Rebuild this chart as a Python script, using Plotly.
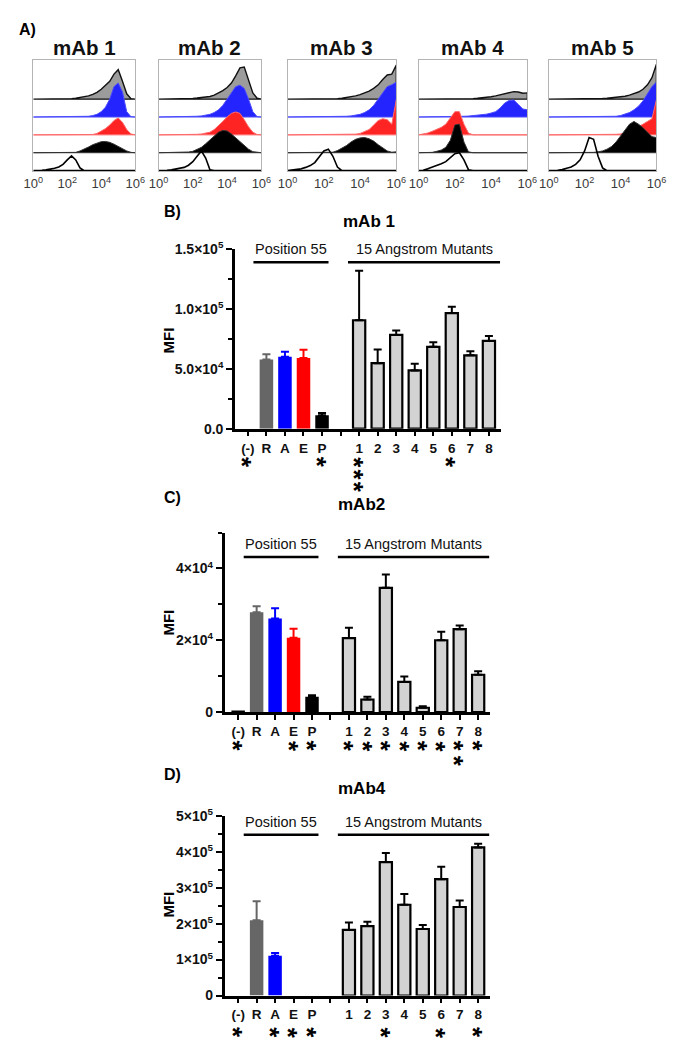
import plotly.graph_objects as go

W, H = 681, 1050
FONT = "Liberation Sans, Arial, Helvetica, sans-serif"

def px(x):
    return x / W

def py(y):
    return 1 - y / H

# ---------------- Panel A: flow cytometry histograms ----------------
hist_x_log = [0.0, 0.25, 0.5, 0.75, 1.0, 1.25, 1.5, 1.75, 2.0, 2.25, 2.5, 2.75, 3.0,
              3.25, 3.5, 3.75, 4.0, 4.25, 4.5, 4.75, 5.0, 5.25, 5.5, 5.75, 6.0]
hist_tick_vals = [0, 2, 4, 6]
hist_tick_text = ["10<sup>0</sup>", "10<sup>2</sup>", "10<sup>4</sup>", "10<sup>6</sup>"]
hist_titles = ["mAb 1", "mAb 2", "mAb 3", "mAb 4", "mAb 5"]

mab1_gray = [0, 0, 0, 0, 0, 0, 0, 0, 0.02, 0.03, 0.05, 0.08, 0.12, 0.18, 0.27, 0.38, 0.55, 0.75, 1.0, 1.4, 1.65, 1.0, 0.3, 0.03, 0]
mab1_blue = [0, 0, 0, 0, 0, 0, 0, 0, 0, 0, 0, 0.01, 0.02, 0.04, 0.08, 0.15, 0.3, 0.55, 1.0, 1.7, 1.9, 1.4, 0.3, 0.02, 0]
mab1_red = [0, 0, 0, 0, 0, 0, 0, 0, 0, 0, 0, 0, 0, 0.01, 0.02, 0.08, 0.2, 0.35, 0.55, 0.8, 0.95, 0.7, 0.3, 0.05, 0]
mab1_black = [0, 0, 0, 0, 0, 0, 0, 0, 0, 0, 0.02, 0.1, 0.2, 0.32, 0.45, 0.55, 0.62, 0.63, 0.58, 0.48, 0.35, 0.22, 0.1, 0.02, 0]
mab1_open = [0, 0, 0.02, 0.05, 0.08, 0.13, 0.2, 0.35, 0.6, 0.82, 0.6, 0.15, 0, 0, 0, 0, 0, 0, 0, 0, 0, 0, 0, 0, 0]

mab2_gray = [0, 0, 0, 0, 0, 0, 0.02, 0.03, 0.04, 0.06, 0.08, 0.11, 0.15, 0.22, 0.33, 0.48, 0.65, 0.9, 1.3, 1.75, 1.8, 1.1, 0.35, 0.05, 0]
mab2_blue = [0, 0, 0, 0, 0, 0, 0, 0, 0.02, 0.04, 0.06, 0.1, 0.15, 0.25, 0.4, 0.65, 1.0, 1.4, 1.7, 1.78, 1.6, 1.0, 0.3, 0.02, 0]
mab2_red = [0, 0, 0, 0, 0, 0, 0, 0, 0.02, 0.03, 0.05, 0.09, 0.15, 0.3, 0.5, 0.75, 1.0, 1.2, 1.28, 1.2, 0.85, 0.45, 0.15, 0.02, 0]
mab2_black = [0, 0, 0, 0, 0, 0, 0.02, 0.04, 0.08, 0.17, 0.3, 0.5, 0.7, 0.95, 1.15, 1.25, 1.22, 1.05, 0.85, 0.6, 0.4, 0.2, 0.06, 0.01, 0]
mab2_open = [0, 0, 0.02, 0.05, 0.08, 0.12, 0.18, 0.3, 0.5, 0.8, 1.1, 0.7, 0.05, 0, 0, 0, 0, 0, 0, 0, 0, 0, 0, 0, 0]

mab3_gray = [0, 0, 0, 0, 0, 0, 0, 0, 0, 0, 0.02, 0.03, 0.05, 0.08, 0.12, 0.18, 0.25, 0.34, 0.45, 0.6, 0.8, 1.1, 1.35, 1.4, 1.9]
mab3_blue = [0, 0, 0, 0, 0, 0, 0, 0, 0, 0, 0, 0, 0.02, 0.04, 0.06, 0.1, 0.15, 0.25, 0.4, 0.65, 1.0, 1.4, 1.7, 1.8, 1.95]
mab3_red = [0, 0, 0, 0, 0, 0, 0, 0, 0, 0, 0, 0, 0, 0, 0.02, 0.04, 0.08, 0.17, 0.3, 0.55, 0.8, 0.9, 0.85, 0.6, 1.95]
mab3_black = [0, 0, 0, 0, 0, 0, 0, 0, 0, 0, 0.03, 0.12, 0.25, 0.4, 0.6, 0.75, 0.83, 0.85, 0.78, 0.65, 0.45, 0.25, 0.1, 0.03, 0.05]
mab3_open = [0, 0.02, 0.05, 0.1, 0.18, 0.28, 0.45, 0.75, 1.1, 1.2, 0.8, 0.2, 0, 0, 0, 0, 0, 0, 0, 0, 0, 0, 0, 0, 0]

mab4_gray = [0, 0, 0, 0, 0, 0, 0, 0, 0, 0, 0.01, 0.02, 0.03, 0.05, 0.07, 0.1, 0.13, 0.18, 0.25, 0.32, 0.38, 0.42, 0.4, 0.33, 0.35]
mab4_blue = [0, 0, 0, 0, 0, 0, 0, 0, 0.02, 0.03, 0.04, 0.05, 0.07, 0.09, 0.12, 0.16, 0.22, 0.3, 0.5, 0.78, 0.93, 0.95, 0.7, 0.45, 0.4]
mab4_red = [0, 0.03, 0.1, 0.2, 0.3, 0.42, 0.6, 0.95, 1.3, 1.3, 0.6, 0.1, 0, 0, 0, 0, 0, 0, 0, 0, 0, 0, 0, 0, 0]
mab4_black = [0, 0, 0, 0.02, 0.08, 0.15, 0.3, 0.7, 1.55, 1.6, 0.6, 0.05, 0, 0, 0, 0, 0, 0, 0, 0, 0, 0, 0, 0, 0]
mab4_open = [0, 0.02, 0.1, 0.18, 0.28, 0.38, 0.5, 0.7, 0.95, 1.0, 0.6, 0.05, 0, 0, 0, 0, 0, 0, 0, 0, 0, 0, 0, 0, 0]

mab5_gray = [0, 0, 0, 0, 0, 0, 0, 0, 0, 0.01, 0.02, 0.03, 0.04, 0.05, 0.07, 0.09, 0.12, 0.16, 0.22, 0.3, 0.4, 0.55, 0.8, 1.2, 1.95]
mab5_blue = [0, 0, 0, 0, 0, 0, 0, 0, 0, 0, 0, 0, 0, 0.01, 0.02, 0.04, 0.08, 0.15, 0.25, 0.4, 0.6, 0.9, 1.3, 1.7, 1.96]
mab5_red = [0, 0, 0, 0, 0, 0, 0, 0, 0, 0, 0, 0, 0, 0, 0.02, 0.03, 0.05, 0.1, 0.2, 0.32, 0.45, 0.6, 0.75, 0.9, 1.96]
mab5_black = [0, 0, 0, 0, 0, 0, 0, 0, 0, 0, 0.02, 0.05, 0.1, 0.2, 0.35, 0.6, 0.95, 1.3, 1.6, 1.75, 1.6, 1.4, 1.15, 0.9, 0.85]
mab5_open = [0, 0, 0.02, 0.06, 0.12, 0.2, 0.35, 0.6, 1.1, 1.85, 1.75, 0.8, 0.15, 0, 0, 0, 0, 0, 0, 0, 0, 0, 0, 0, 0]

hist_sets = [
    [mab1_gray, mab1_blue, mab1_red, mab1_black, mab1_open],
    [mab2_gray, mab2_blue, mab2_red, mab2_black, mab2_open],
    [mab3_gray, mab3_blue, mab3_red, mab3_black, mab3_open],
    [mab4_gray, mab4_blue, mab4_red, mab4_black, mab4_open],
    [mab5_gray, mab5_blue, mab5_red, mab5_black, mab5_open],
]
row_offsets = [4, 3, 2, 1, 0]
row_fill = ["#9c9c9c", "#2424ff", "#ff2424", "#000000", None]
row_line = ["#111111", "#4a4aff", "#ff6a6a", "#333333", "#000000"]
row_lw = [1.4, 1.0, 1.0, 1.0, 1.6]

hist_boxes_px = [(24, 129), (153, 259), (286, 398), (421, 533), (555, 666)]
hist_top_px, hist_bot_px = 50.7, 164.3

# ---------------- Panels B-D: bar charts ----------------
tick_positions = [0, 1, 2, 3, 4, 5, 6, 7, 8, 9, 10, 11, 12, 13]
tick_labels = ["(-)", "R", "A", "E", "P", "", "1", "2", "3", "4", "5", "6", "7", "8"]
pos55_x = [0, 1, 2, 3, 4]
mut_x = [6, 7, 8, 9, 10, 11, 12, 13]
pos55_colors = ["#000000", "#666666", "#0000ff", "#ff0000", "#000000"]
mut_color = "#d3d3d3"

# mAb 1 (B)
b_pos55 = [0, 57700, 60200, 59100, 11200]
b_pos55_err = [0, 4400, 4100, 6900, 1900]
b_mut = [90600, 54700, 78300, 48700, 68400, 96600, 61300, 73300]
b_mut_err = [41300, 11500, 3800, 5500, 3800, 5200, 3300, 4100]
b_stars = [1, 0, 0, 0, 1, 3, 0, 0, 0, 0, 1, 0, 0]

# mAb2 (C)
c_pos55 = [300, 27800, 26100, 20700, 4250]
c_pos55_err = [0, 1700, 2800, 2500, 450]
c_mut = [20600, 3500, 34600, 8400, 1200, 20000, 23100, 10400]
c_mut_err = [2900, 750, 3700, 1500, 400, 2400, 1000, 1000]
c_stars = [1, 0, 0, 1, 1, 1, 1, 1, 1, 1, 1, 2, 1]

# mAb4 (D)
d_pos55 = [0, 209900, 110400, 0, 0]
d_pos55_err = [0, 52900, 8200, 0, 0]
d_mut = [182500, 193400, 371400, 252700, 185200, 323900, 246400, 412400]
d_mut_err = [21000, 11900, 25500, 30100, 11000, 34700, 18200, 10000]
d_stars = [1, 0, 1, 1, 1, 0, 0, 1, 0, 0, 1, 0, 1]

b_yticks = [0, 50000, 100000, 150000]
b_yticktext = ["0.0", "5.0×10<sup>4</sup>", "1.0×10<sup>5</sup>", "1.5×10<sup>5</sup>"]
b_yminor = [25000, 75000, 125000]
c_yticks = [0, 20000, 40000]
c_yticktext = ["0", "2×10<sup>4</sup>", "4×10<sup>4</sup>"]
c_yminor = [10000, 30000, 50000]
d_yticks = [0, 100000, 200000, 300000, 400000, 500000]
d_yticktext = ["0", "1×10<sup>5</sup>", "2×10<sup>5</sup>", "3×10<sup>5</sup>", "4×10<sup>5</sup>", "5×10<sup>5</sup>"]
d_yminor = [50000, 150000, 250000, 350000, 450000]

panels = [
    dict(ax="6", title="mAb 1", letter="B)", pos55=b_pos55, pos55_err=b_pos55_err, mut=b_mut,
         mut_err=b_mut_err, stars=b_stars, yticks=b_yticks, ytext=b_yticktext, yminor=b_yminor,
         ymax=150000, xpx=(231.7, 506.2), ypx=(243.3, 426.0), xrange=[-0.7, 13.67],
         letter_px=(167, 205), title_px=(369.5, 215), mfi_px=(163, 336),
         group_line_y=139000, group_text_y=150000, star_row_px=458, star_sep="\u200a"),
    dict(ax="7", title="mAb2", letter="C)", pos55=c_pos55, pos55_err=c_pos55_err, mut=c_mut,
         mut_err=c_mut_err, stars=c_stars, yticks=c_yticks, ytext=c_yticktext, yminor=c_yminor,
         ymax=50000, xpx=(221.0, 494.3), ypx=(531.7, 714.3), xrange=[-0.74, 13.63],
         letter_px=(167, 496), title_px=(362.5, 503), mfi_px=(163, 623),
         group_line_y=43200, group_text_y=46900, star_row_px=746.7, star_sep="\u2009"),
    dict(ax="8", title="mAb4", letter="D)", pos55=d_pos55, pos55_err=d_pos55_err, mut=d_mut,
         mut_err=d_mut_err, stars=d_stars, yticks=d_yticks, ytext=d_yticktext, yminor=d_yminor,
         ymax=500000, xpx=(221.0, 494.3), ypx=(820.0, 1002.7), xrange=[-0.74, 13.63],
         letter_px=(167, 778), title_px=(362.5, 792), mfi_px=(163, 910),
         group_line_y=447700, group_text_y=484100, star_row_px=1038.3, star_sep="\u2009"),
]

fig = go.Figure()
layout = {}
annotations = []
shapes = []

# ---- histograms ----
for i, curves in enumerate(hist_sets):
    n = "" if i == 0 else str(i + 1)
    xl, xr = hist_boxes_px[i]
    layout["xaxis" + n] = dict(domain=[px(xl), px(xr)], anchor="y" + n, range=[0, 6],
                               showline=True, mirror=True, linecolor="#b4b4b4", linewidth=1,
                               showgrid=False, zeroline=False, ticks="",
                               tickvals=hist_tick_vals, ticktext=hist_tick_text,
                               tickfont=dict(family=FONT, size=13, color="#3a3a3a"))
    layout["yaxis" + n] = dict(domain=[py(hist_bot_px), py(hist_top_px)], anchor="x" + n,
                               range=[-0.05, 6.2], showline=True, mirror=True,
                               linecolor="#b4b4b4", linewidth=1, showgrid=False,
                               zeroline=False, showticklabels=False, ticks="")
    for r, h in enumerate(curves):
        base = row_offsets[r]
        xs = hist_x_log + [hist_x_log[-1], hist_x_log[0]]
        ys = [base + v for v in h] + [base, base]
        fig.add_trace(go.Scatter(
            x=xs, y=ys, mode="lines", xaxis="x" + n, yaxis="y" + n,
            fill="toself" if row_fill[r] else "none",
            fillcolor=row_fill[r] if row_fill[r] else None,
            line=dict(color=row_line[r], width=row_lw[r]),
            hoverinfo="skip", showlegend=False))
    annotations.append(dict(text="<b>%s</b>" % hist_titles[i], x=px((xl + xr) / 2), y=py(38),
                            xref="paper", yref="paper", showarrow=False, xanchor="center",
                            yanchor="middle", font=dict(family=FONT, size=20.5, color="#111111")))

annotations.append(dict(text="<b>A)</b>", x=px(18), y=py(20), xref="paper", yref="paper",
                        showarrow=False, xanchor="center", yanchor="middle",
                        font=dict(family=FONT, size=16, color="#000000")))

# ---- bar panels ----
STAR_SIZE = 26
for p in panels:
    a = p["ax"]
    layout["xaxis" + a] = dict(domain=[px(p["xpx"][0]), px(p["xpx"][1])], anchor="y" + a,
                               range=p["xrange"], showline=True, linecolor="black", linewidth=2.5,
                               showgrid=False, zeroline=False, ticks="outside", ticklen=5,
                               tickwidth=2, tickcolor="black", tickvals=tick_positions,
                               ticktext=["<b>%s</b>" % t if t else " " for t in tick_labels],
                               tickfont=dict(family=FONT, size=13.5, color="#111111"))
    layout["yaxis" + a] = dict(domain=[py(p["ypx"][1]), py(p["ypx"][0])], anchor="x" + a,
                               range=[0, p["ymax"]], showline=True, linecolor="black",
                               linewidth=2.5, showgrid=False, zeroline=False, ticks="outside",
                               ticklen=6, tickwidth=2, tickcolor="black",
                               tickvals=p["yticks"],
                               ticktext=["<b>%s</b>" % t for t in p["ytext"]],
                               tickfont=dict(family=FONT, size=14, color="#111111"),
                               minor=dict(tickvals=p["yminor"], ticks="outside", ticklen=4,
                                          tickwidth=2, tickcolor="black", showgrid=False))
    for k in range(len(pos55_x)):
        fig.add_trace(go.Bar(
            x=[pos55_x[k]], y=[p["pos55"][k]], xaxis="x" + a, yaxis="y" + a, width=0.73,
            marker=dict(color=pos55_colors[k], line=dict(width=0)),
            error_y=dict(type="data", array=[p["pos55_err"][k]], arrayminus=[0],
                         symmetric=False, color=pos55_colors[k], thickness=2, width=4,
                         visible=p["pos55_err"][k] > 0),
            hoverinfo="skip", showlegend=False))
    fig.add_trace(go.Bar(
        x=mut_x, y=p["mut"], xaxis="x" + a, yaxis="y" + a, width=0.66,
        marker=dict(color=mut_color, line=dict(color="black", width=2.2)),
        error_y=dict(type="data", array=p["mut_err"], arrayminus=[0] * len(mut_x),
                     symmetric=False, color="black", thickness=2, width=4),
        hoverinfo="skip", showlegend=False))

    # group brackets
    for (x0, x1, xc, label) in [(0.3, 4.35, 2.3, "Position 55"), (5.4, 13.6, 9.5, "15 Angstrom Mutants")]:
        shapes.append(dict(type="line", xref="x" + a, yref="y" + a, x0=x0, x1=x1,
                           y0=p["group_line_y"], y1=p["group_line_y"],
                           line=dict(color="black", width=2.5)))
        annotations.append(dict(text=label, x=xc, y=p["group_text_y"], xref="x" + a,
                                yref="y" + a, showarrow=False, xanchor="center",
                                yanchor="middle",
                                font=dict(family=FONT, size=14.5, color="#111111")))

    # significance stars (stacked vertically: text rotated so glyphs run downward)
    star_x = pos55_x + mut_x
    half_adv = 0.389 * STAR_SIZE / 2
    for xi, cnt in zip(star_x, p["stars"]):
        if cnt == 0:
            continue
        txt = p["star_sep"].join(["*"] * cnt)
        annotations.append(dict(text="<b>%s</b>" % txt, x=xi, y=py(p["star_row_px"] - half_adv),
                                xref="x" + a, yref="paper", showarrow=False, xanchor="center",
                                yanchor="top", textangle=90, xshift=-0.2 * STAR_SIZE,
                                font=dict(family=FONT, size=STAR_SIZE, color="#000000")))

    lx, ly = p["letter_px"]
    annotations.append(dict(text="<b>%s</b>" % p["letter"], x=px(lx), y=py(ly), xref="paper",
                            yref="paper", showarrow=False, xanchor="center", yanchor="middle",
                            font=dict(family=FONT, size=16, color="#000000")))
    tx, ty = p["title_px"]
    annotations.append(dict(text="<b>%s</b>" % p["title"], x=px(tx), y=py(ty), xref="paper",
                            yref="paper", showarrow=False, xanchor="center", yanchor="middle",
                            font=dict(family=FONT, size=17, color="#000000")))
    mx, my = p["mfi_px"]
    annotations.append(dict(text="<b>MFI</b>", x=px(mx), y=py(my), xref="paper", yref="paper",
                            showarrow=False, xanchor="center", yanchor="middle", textangle=-90,
                            font=dict(family=FONT, size=15, color="#000000")))

layout.update(dict(width=W, height=H, margin=dict(l=0, r=0, t=0, b=0, pad=0),
                   paper_bgcolor="white", plot_bgcolor="white", showlegend=False,
                   barmode="overlay", font=dict(family=FONT),
                   annotations=annotations, shapes=shapes))
fig.update_layout(**layout)
fig.write_html("out.html", config={"displayModeBar": False},
               post_script="document.body.style.margin='0';")
